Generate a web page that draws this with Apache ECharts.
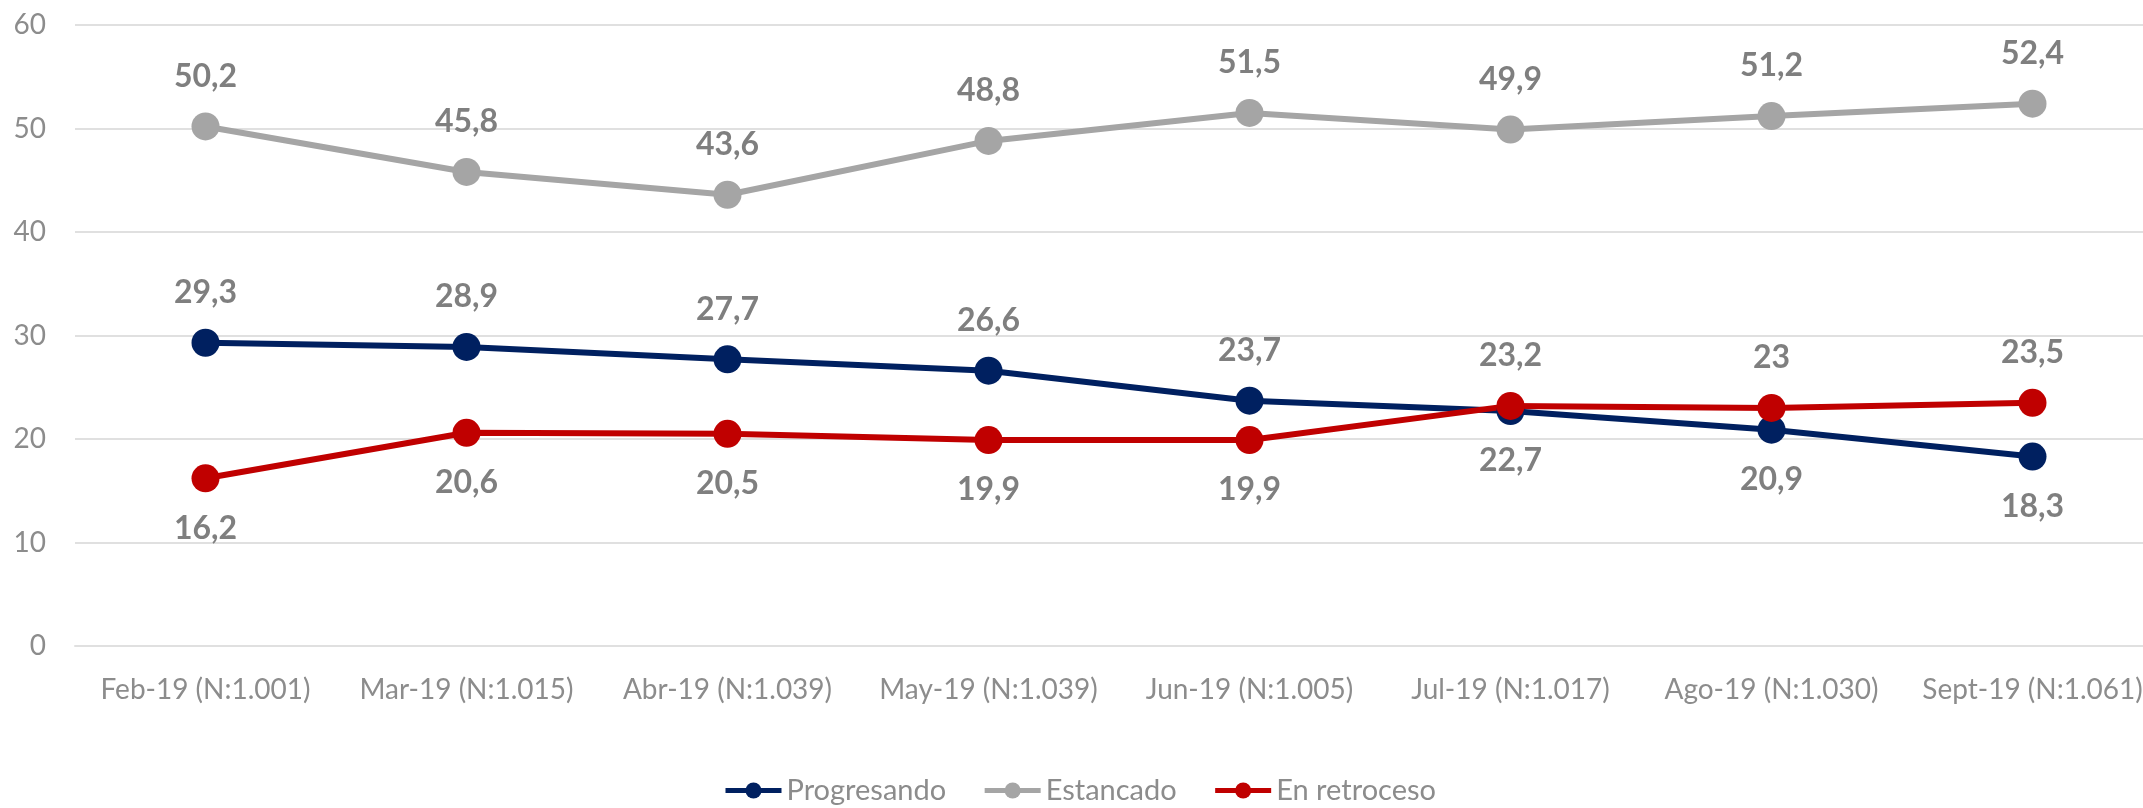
<!DOCTYPE html>
<html>
<head>
<meta charset="utf-8">
<style>
  html, body { margin: 0; padding: 0; background: #fff; overflow: hidden; }
  /* el gráfico original se sale un poco por la derecha */
  #chart { width: 2163px; height: 808px; }
</style>
<script src="https://cdn.jsdelivr.net/npm/echarts@6/dist/echarts.min.js"></script>
</head>
<body>
<div id="chart"></div>
<script>
const categories = [
  'Feb-19 (N:1.001)', 'Mar-19 (N:1.015)', 'Abr-19 (N:1.039)', 'May-19 (N:1.039)',
  'Jun-19 (N:1.005)', 'Jul-19 (N:1.017)', 'Ago-19 (N:1.030)', 'Sept-19 (N:1.061)'
]
const progresando = [29.3, 28.9, 27.7, 26.6, 23.7, 22.7, 20.9, 18.3]
const estancado = [50.2, 45.8, 43.6, 48.8, 51.5, 49.9, 51.2, 52.4]
const enRetroceso = [16.2, 20.6, 20.5, 19.9, 19.9, 23.2, 23, 23.5]

const FONT = 'Lato, "Liberation Sans", sans-serif'
const colors = { prog: '#002060', est: '#a5a5a5', ret: '#c00000' }

const fmt = v => String(v).replace('.', ',')

// etiqueta arriba o abajo según quién va por encima
const withPos = (vals, other) => vals.map((v, i) => ({
  value: v,
  label: { position: v >= other[i] ? 'top' : 'bottom' }
}))

const makeSeries = (name, data, color) => ({
  name,
  type: 'line',
  data,
  symbol: 'circle',
  symbolSize: 28,
  lineStyle: { width: 6, color },
  itemStyle: { color },
  label: {
    show: true,
    position: 'top',
    distance: 20,
    fontFamily: FONT,
    fontSize: 32,
    fontWeight: 'bold',
    color: '#7f7f7f',
    formatter: p => fmt(p.value)
  }
})

const chart = echarts.init(document.getElementById('chart'))

chart.setOption({
  animation: false,
  textStyle: { fontFamily: FONT },
  grid: { left: 75, right: 0, top: 25, bottom: 162 },
  legend: {
    top: 771,
    left: 718,
    itemWidth: 56,
    itemHeight: 20,
    itemGap: 36,
    lineStyle: { width: 5 },
    textStyle: { fontFamily: FONT, fontSize: 29, color: '#8c8c8c' },
    data: ['Progresando', 'Estancado', 'En retroceso']
  },
  xAxis: {
    type: 'category',
    data: categories,
    boundaryGap: true,
    axisLine: { lineStyle: { color: '#e0e0e0', width: 2 } },
    axisTick: { show: false },
    axisLabel: { color: '#8c8c8c', fontFamily: FONT, fontSize: 28, margin: 30, interval: 0 }
  },
  yAxis: {
    type: 'value',
    min: 0,
    max: 60,
    interval: 10,
    axisLine: { show: false },
    axisTick: { show: false },
    axisLabel: { color: '#8c8c8c', fontFamily: FONT, fontSize: 28, margin: 29 },
    splitLine: { lineStyle: { color: '#e0e0e0', width: 2 } }
  },
  series: [
    makeSeries('Progresando', withPos(progresando, enRetroceso), colors.prog),
    makeSeries('Estancado', estancado, colors.est),
    makeSeries('En retroceso', withPos(enRetroceso, progresando), colors.ret)
  ]
})
</script>
</body>
</html>
